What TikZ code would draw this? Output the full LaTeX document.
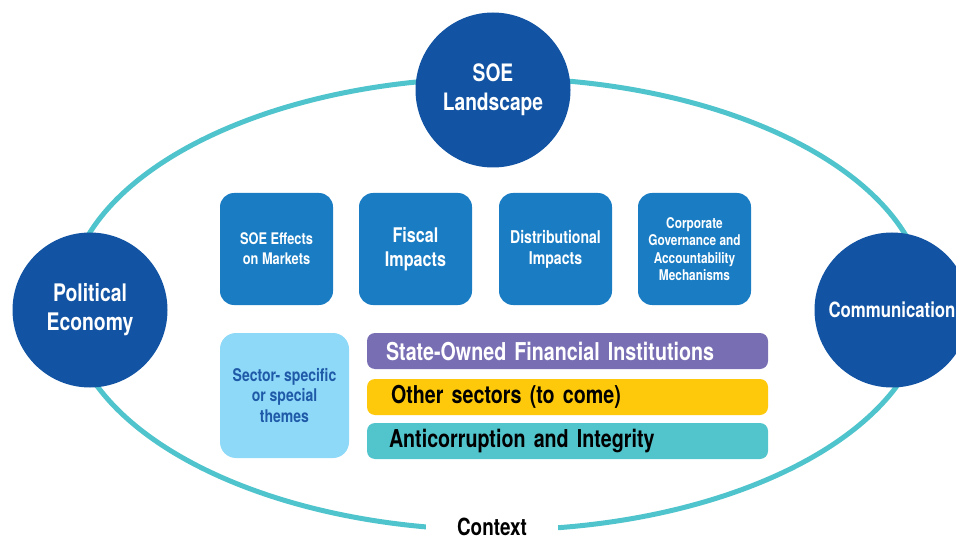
\documentclass[tikz,border=0pt]{standalone}
\usepackage{fontspec}
\setmainfont{TeX Gyre Heros}[FakeStretch=0.8]
\definecolor{ring}{HTML}{50C4CC}
\definecolor{circ}{HTML}{1254A3}
\definecolor{boxb}{HTML}{1A7DC4}
\definecolor{lightb}{HTML}{8ED8F8}
\definecolor{sectxt}{HTML}{1F5AA8}
\definecolor{purp}{HTML}{786EB4}
\definecolor{yell}{HTML}{FFC90B}
\definecolor{barteal}{HTML}{52C4CC}
\newcommand{\fs}[2]{\fontsize{#1}{#2}\selectfont\bfseries}
\begin{document}
\begin{tikzpicture}[x=1pt,y=-1pt,
  bigcirc/.style={circle, fill=circ, minimum size=155, inner sep=0, text=white, align=center},
  topic/.style={rectangle, rounded corners=14, fill=boxb, minimum width=113, minimum height=112, inner sep=2, text=white, align=center},
  bar/.style={rectangle, rounded corners=8, minimum width=401, minimum height=36, inner xsep=19, inner ysep=0, text width=363, align=left, font=\fs{24.6}{28}}]
\useasboundingbox (0,0) rectangle (956,540);
\draw[ring, line width=5] (497,304) ellipse [x radius=429, y radius=226];
\node[fill=white, inner xsep=31, inner ysep=3, font=\fs{23.6}{27}] (ctx) at (492,527) {Context};
\node[bigcirc, font=\fs{24}{29}] (soe) at (493,90) {SOE\\Landscape};
\node[bigcirc, font=\fs{24.2}{29}] (pol) at (90,310) {Political\\Economy};
\node[bigcirc, font=\fs{21}{24}] (com) at (892,310) {Communication};
\node[topic, font=\fs{16}{20}] (mkt) at (276.5,249) {SOE Effects\\on Markets};
\node[topic, font=\fs{20.2}{24}] (fis) at (415.5,249) {Fiscal\\Impacts};
\node[topic, font=\fs{17.6}{21}] (dis) at (555.5,249) {Distributional\\Impacts};
\node[topic, font=\fs{14.8}{17.6}] (cor) at (694.5,249) {Corporate\\Governance and\\Accountability\\Mechanisms};
\node[rectangle, rounded corners=16, fill=lightb, minimum width=129, minimum height=125, inner sep=2, text=sectxt, align=center, font=\fs{17.5}{20.5}] (sec) at (284.5,395.5) {Sector- specific\\or special\\themes};
\node[bar, fill=purp, text=white] (sofi) at (567.5,351) {State-Owned Financial Institutions};
\node[bar, fill=yell, text=black] (oth) at (567.5,397) {\hspace*{5pt}Other sectors (to come)};
\node[bar, fill=barteal, text=black] (anti) at (567.5,441) {\hspace*{3pt}Anticorruption and Integrity};
\end{tikzpicture}
\end{document}
